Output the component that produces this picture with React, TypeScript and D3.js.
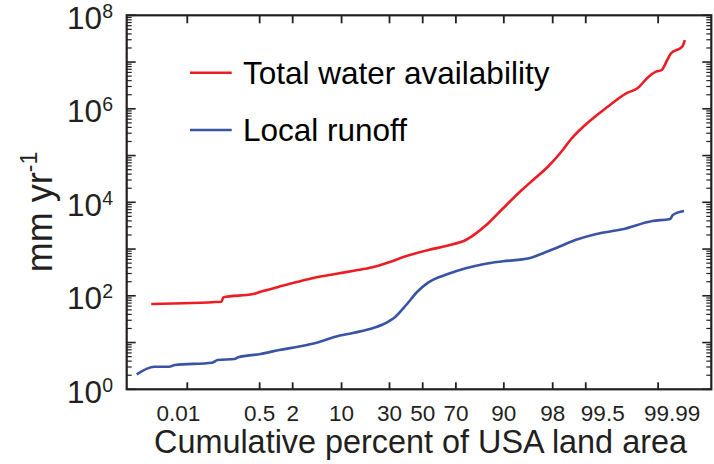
import React from "react";
import * as d3 from "d3";

// Cumulative percent of USA land area (x) and mm/yr values (y)
const totalPct = [0.0009, 0.074, 0.082, 0.37, 0.52, 1.17, 2.43, 4.69, 8.35, 13.85, 21.4, 26.9, 41.9, 53.6, 65.0, 75.2, 84.96, 89.8, 94.13, 95.93, 97.6, 98.655, 99.015, 99.487, 99.826, 99.9348, 99.9653, 99.9821, 99.9886, 99.99197, 99.9944, 99.99563, 99.99793, 99.99827];
const totalVal = [66.8, 74.8, 92.9, 109, 122, 157, 200, 249, 293, 344, 407, 479, 746, 954, 1180, 1563, 3553, 7447, 18330, 29990, 57700, 131500, 215200, 450000, 1.109e6, 2.147e6, 2.746e6, 4.86e6, 6.22e6, 6.76e6, 1.107e7, 1.54e7, 2.13e7, 2.96e7];

const runoffPct = [0.000312, 0.00112, 0.0031, 0.0045, 0.0439, 0.06, 0.147, 0.178, 0.52, 1.17, 2.43, 4.69, 8.35, 13.85, 21.4, 26.9, 33.0, 39.7, 46.6, 53.6, 65.0, 75.2, 83.5, 89.8, 95.37, 96.85, 98.44, 99.28, 99.697, 99.92, 99.9857, 99.99538, 99.99611, 99.99817];
const runoffVal = [2.09, 3.04, 3.04, 3.31, 3.71, 4.24, 4.45, 4.84, 5.69, 6.93, 8.15, 9.93, 13.3, 16.2, 20.2, 24.9, 34.7, 63.6, 122, 194, 288, 387, 479, 547, 634, 772, 1122, 1617, 2099, 2644, 3981, 4395, 5350, 6516];

const xTicks = [0.01, 0.5, 2, 10, 30, 50, 70, 90, 98, 99.5, 99.99];
const xTickLabels = ["0.01", "0.5", "2", "10", "30", "50", "70", "90", "98", "99.5", "99.99"];
const yExponents = [0, 2, 4, 6, 8];

const seriesNames = ["Total water availability", "Local runoff"];
const seriesColors = ["#ed1c24", "#3a53a4"];

// inverse normal CDF (Acklam)
function probit(p: number): number {
  const a = [-3.969683028665376e1, 2.209460984245205e2, -2.759285104469687e2, 1.38357751867269e2, -3.066479806614716e1, 2.506628277459239];
  const b = [-5.447609879822406e1, 1.615858368580409e2, -1.556989798598866e2, 6.680131188771972e1, -1.328068155288572e1];
  const c = [-7.784894002430293e-3, -3.223964580411365e-1, -2.400758277161838, -2.549732539343734, 4.374664141464968, 2.938163982698783];
  const d = [7.784695709041462e-3, 3.224671290700398e-1, 2.445134137142996, 3.754408661907416];
  const plow = 0.02425;
  if (p < plow) {
    const q = Math.sqrt(-2 * Math.log(p));
    return (((((c[0] * q + c[1]) * q + c[2]) * q + c[3]) * q + c[4]) * q + c[5]) / ((((d[0] * q + d[1]) * q + d[2]) * q + d[3]) * q + 1);
  }
  if (p <= 1 - plow) {
    const q = p - 0.5;
    const r = q * q;
    return ((((((a[0] * r + a[1]) * r + a[2]) * r + a[3]) * r + a[4]) * r + a[5]) * q) / (((((b[0] * r + b[1]) * r + b[2]) * r + b[3]) * r + b[4]) * r + 1);
  }
  const q = Math.sqrt(-2 * Math.log(1 - p));
  return -(((((c[0] * q + c[1]) * q + c[2]) * q + c[3]) * q + c[4]) * q + c[5]) / ((((d[0] * q + d[1]) * q + d[2]) * q + d[3]) * q + 1);
}

const W = 714, H = 464;
const L = 126.7, R = 711.3, T = 15.3, B = 389.3;
const INK = "#231f20";
const FONT = "'Liberation Sans', Arial, Helvetica, sans-serif";

export default function App() {
  const zScale = d3.scaleLinear().domain([-4.676, 4.559]).range([L, R]);
  const x = (pct: number) => zScale(probit(pct / 100));
  const y = d3.scaleLog().domain([1, 1e8]).range([B, T]);

  const gen = d3
    .line<[number, number]>()
    .x((d) => x(d[0]))
    .y((d) => y(d[1]))
    .curve(d3.curveMonotoneX);

  const totalData: [number, number][] = totalPct.map((p, i) => [p, totalVal[i]]);
  const runoffData: [number, number][] = runoffPct.map((p, i) => [p, runoffVal[i]]);

  // y ticks: majors at each decade, minors 2..9
  const majors: number[] = d3.range(0, 9).map((e) => Math.pow(10, e));
  const minors: number[] = [];
  for (let e = 0; e < 8; e++) for (let m = 2; m <= 9; m++) minors.push(m * Math.pow(10, e));

  const labelNudge: Record<string, number> = { "0.01": -9, "99.5": 17, "99.99": 14 };

  return (
    <svg width={W} height={H} style={{ position: "absolute", left: 0, top: 0, background: "#fff" }} fontFamily={FONT}>
      <rect x={0} y={0} width={W} height={H} fill="#fff" />
      {/* data lines */}
      <path d={gen(totalData) || ""} fill="none" stroke={seriesColors[0]} strokeWidth={2.6} strokeLinejoin="round" />
      <path d={gen(runoffData) || ""} fill="none" stroke={seriesColors[1]} strokeWidth={2.6} strokeLinejoin="round" />

      {/* y ticks left & right */}
      {majors.map((v) => (
        <g key={"M" + v}>
          <line x1={L} x2={L + 9} y1={y(v)} y2={y(v)} stroke={INK} strokeWidth={1.6} />
          <line x1={R} x2={R - 9} y1={y(v)} y2={y(v)} stroke={INK} strokeWidth={1.6} />
        </g>
      ))}
      {minors.map((v) => (
        <g key={"m" + v}>
          <line x1={L} x2={L + 5} y1={y(v)} y2={y(v)} stroke={INK} strokeWidth={1.2} />
          <line x1={R} x2={R - 5} y1={y(v)} y2={y(v)} stroke={INK} strokeWidth={1.2} />
        </g>
      ))}
      {/* x ticks bottom & top */}
      {xTicks.map((p) => (
        <g key={"x" + p}>
          <line x1={x(p)} x2={x(p)} y1={B} y2={B - 7} stroke={INK} strokeWidth={1.8} />
          <line x1={x(p)} x2={x(p)} y1={T} y2={T + 8} stroke={INK} strokeWidth={1.8} />
        </g>
      ))}
      {/* frame */}
      <rect x={L} y={T} width={R - L} height={B - T} fill="none" stroke={INK} strokeWidth={2.2} />

      {/* x tick labels */}
      {xTicks.map((p, i) => (
        <text key={"xl" + p} x={x(p) + (labelNudge[xTickLabels[i]] || 0)} y={421} textAnchor="middle" fontSize={22.5} fill={INK}>
          {xTickLabels[i]}
        </text>
      ))}
      {/* y tick labels */}
      {yExponents.map((e) => (
        <text key={"yl" + e} x={113} y={y(Math.pow(10, e)) + 13.5} textAnchor="end" fontSize={31.5} fill={INK}>
          10
          <tspan fontSize={19.5} dy={-11}>{e}</tspan>
        </text>
      ))}

      {/* axis titles */}
      <text x={420.5} y={453} textAnchor="middle" fontSize={32.4} fill={INK}>
        Cumulative percent of USA land area
      </text>
      <text transform={`translate(52,${212}) rotate(-90)`} textAnchor="middle" fontSize={36} fill={INK}>
        mm yr
        <tspan fontSize={23} dy={-15}>-1</tspan>
      </text>

      {/* legend */}
      {seriesNames.map((name, i) => (
        <g key={name}>
          <line x1={190} x2={231.7} y1={72.7 + i * 57.3} y2={72.7 + i * 57.3} stroke={seriesColors[i]} strokeWidth={2.6} />
          <text x={243} y={83.5 + i * 57.3} fontSize={31.5} fill="#000">
            {name}
          </text>
        </g>
      ))}
    </svg>
  );
}
